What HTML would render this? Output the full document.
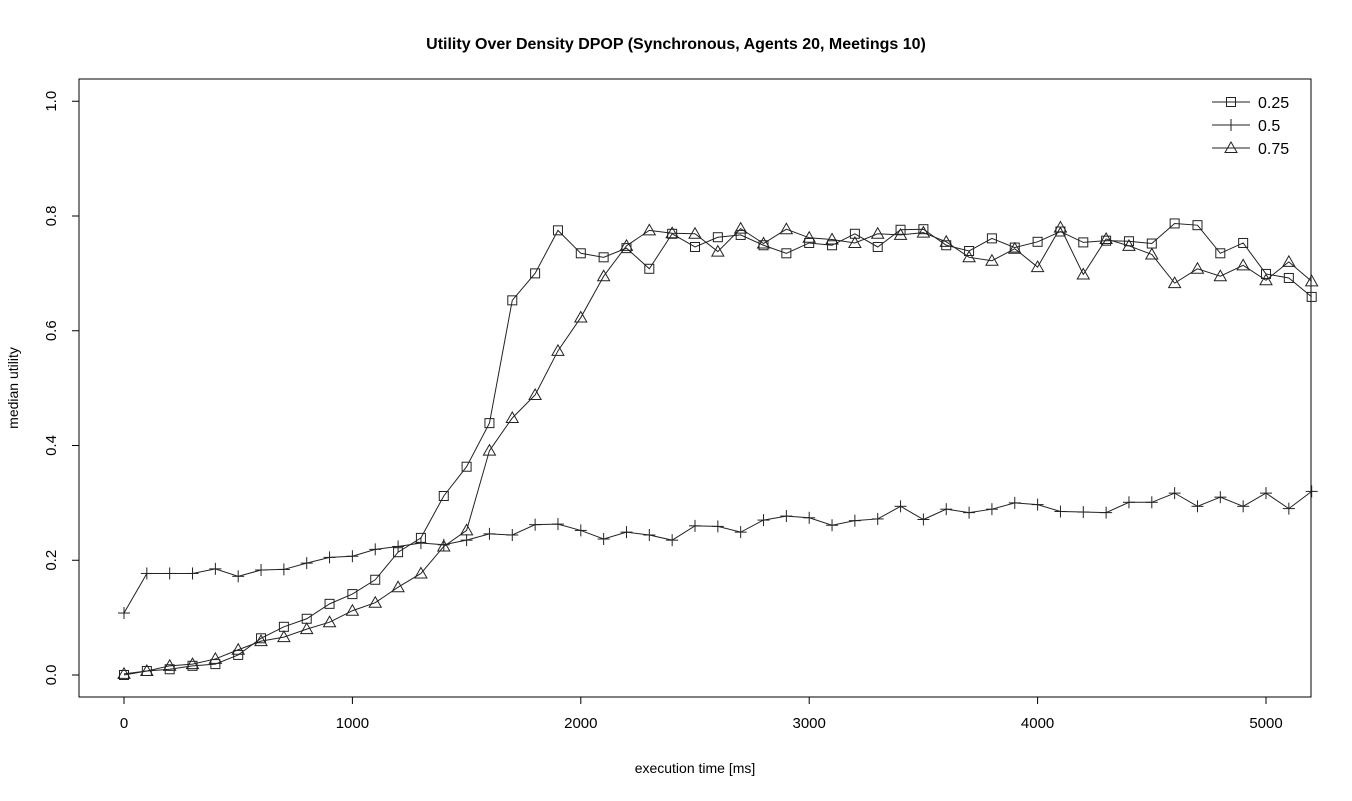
<!DOCTYPE html>
<html><head><meta charset="utf-8"><style>
body{margin:0;background:#fff}
svg text{font-family:"Liberation Sans",Arial,sans-serif}
</style></head><body>
<svg id="c" width="1352" height="796" xmlns="http://www.w3.org/2000/svg"></svg>
<script>
const xs=[];for(let i=0;i<=52;i++)xs.push(i*100);
const s025=[0,0.007,0.010,0.016,0.019,0.035,0.064,0.084,0.098,0.124,0.141,0.166,0.214,0.239,0.312,0.363,0.439,0.653,0.700,0.775,0.735,0.728,0.744,0.708,0.769,0.746,0.763,0.767,0.749,0.735,0.753,0.749,0.769,0.746,0.776,0.777,0.749,0.739,0.761,0.745,0.755,0.773,0.754,0.757,0.756,0.752,0.787,0.784,0.735,0.753,0.699,0.692,0.659];
const s05=[0.108,0.177,0.177,0.177,0.185,0.172,0.183,0.184,0.195,0.205,0.207,0.219,0.224,0.230,0.227,0.235,0.246,0.244,0.262,0.263,0.252,0.237,0.249,0.244,0.235,0.260,0.259,0.249,0.270,0.277,0.274,0.261,0.269,0.272,0.294,0.271,0.289,0.283,0.289,0.300,0.297,0.285,0.284,0.283,0.301,0.301,0.317,0.294,0.310,0.294,0.317,0.290,0.320];
const s075=[0.002,0.007,0.016,0.019,0.028,0.044,0.059,0.066,0.080,0.092,0.112,0.126,0.153,0.177,0.224,0.252,0.391,0.448,0.488,0.565,0.623,0.695,0.748,0.775,0.770,0.769,0.738,0.778,0.752,0.777,0.762,0.759,0.753,0.769,0.767,0.771,0.755,0.728,0.722,0.743,0.711,0.780,0.698,0.760,0.748,0.733,0.683,0.708,0.695,0.714,0.688,0.720,0.686];
const xTicks=[0,1000,2000,3000,4000,5000];
const yTicks=[0,0.2,0.4,0.6,0.8,1.0];
const yTickLabels=["0.0","0.2","0.4","0.6","0.8","1.0"];
const seriesNames=["0.25","0.5","0.75"];

const svg=document.getElementById('c');
const NS="http://www.w3.org/2000/svg";
function X(v){return 124+v*0.2284;}
function Y(v){return 675-v*573.75;}
function mk(t,a,p){const e=document.createElementNS(NS,t);for(const k in a)e.setAttribute(k,a[k]);(p||svg).appendChild(e);return e;}

let e=mk('rect',{x:79,y:79,width:1232,height:618,fill:'none',stroke:'#000','stroke-width':1});


e=mk('text',{x:676,y:49,'text-anchor':'middle','font-size':16,'font-weight':'bold'});e.textContent='Utility Over Density DPOP (Synchronous, Agents 20, Meetings 10)';


e=mk('text',{x:695,y:773,'text-anchor':'middle','font-size':14});e.textContent='execution time [ms]';


e=mk('text',{x:0,y:0,'text-anchor':'middle','font-size':14,transform:'translate(18,388) rotate(-90)'});e.textContent='median utility';



const xa=mk('g',{});


mk('line',{x1:X(0),x2:X(5000),y1:697,y2:697,stroke:'#000'},xa);
xTicks.forEach(t=>{mk('line',{x1:X(t),x2:X(t),y1:697,y2:704,stroke:'#000'},xa);
 const tx=mk('text',{x:X(t),y:728,'text-anchor':'middle','font-size':15},xa);tx.textContent=t;
 
 });
const ya=mk('g',{});


mk('line',{x1:79,x2:79,y1:Y(0),y2:Y(1),stroke:'#000'},ya);
yTicks.forEach((t,i)=>{mk('line',{x1:72,x2:79,y1:Y(t),y2:Y(t),stroke:'#000'},ya);
 const tx=mk('text',{x:0,y:0,'text-anchor':'middle','font-size':15,transform:`translate(56,${Y(t)}) rotate(-90)`},ya);tx.textContent=yTickLabels[i];
 
 });

function marker(kind,x,y,g){
 if(kind==0)mk('rect',{x:x-4.5,y:y-4.5,width:9,height:9,fill:'none',stroke:'#222'},g);
 else if(kind==1){mk('line',{x1:x-6,x2:x+6,y1:y,y2:y,stroke:'#222'},g);mk('line',{x1:x,x2:x,y1:y-6,y2:y+6,stroke:'#222'},g);}
 else mk('polygon',{points:`${x},${y-6} ${x-6},${y+4.5} ${x+6},${y+4.5}`,fill:'none',stroke:'#222'},g);
}
[s025,s05,s075].forEach((s,k)=>{
 const g=mk('g',{});
 
 
 const pts=s.map((v,i)=>X(xs[i])+','+Y(v)).join(' ');
 mk('polyline',{points:pts,fill:'none',stroke:'#222','stroke-width':1},g);
 s.forEach((v,i)=>marker(k,X(xs[i]),Y(v),g));
});
const lg=mk('g',{});


seriesNames.forEach((n,k)=>{const y=102+k*23;
 const g=mk('g',{},lg);
 
 
 mk('line',{x1:1212,x2:1250,y1:y,y2:y,stroke:'#222'},g);marker(k,1231,y,g);
 const t=mk('text',{x:1258,y:y+6,'font-size':16},g);t.textContent=n;});
</script>
</body></html>
